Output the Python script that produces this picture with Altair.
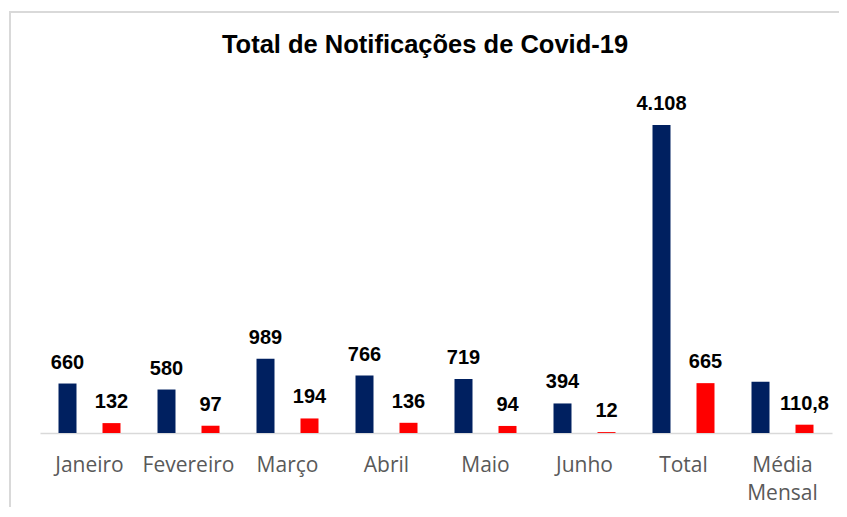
import altair as alt
import pandas as pd

categories = ["Janeiro", "Fevereiro", "Março", "Abril", "Maio", "Junho", "Total", "Média Mensal"]
series_names = ["Notificações", "Outros"]
values_a = [660, 580, 989, 766, 719, 394, 4108, 684.7]
values_b = [132, 97, 194, 136, 94, 12, 665, 110.8]
labels_a = ["660", "580", "989", "766", "719", "394", "4.108", ""]
labels_b = ["132", "97", "194", "136", "94", "12", "665", "110,8"]

rows = []
for i, c in enumerate(categories):
    rows.append({"cat": c, "serie": series_names[0], "v": values_a[i], "lab": labels_a[i]})
    rows.append({"cat": c, "serie": series_names[1], "v": values_b[i], "lab": labels_b[i]})
df = pd.DataFrame(rows)

x = alt.X("cat:N", sort=categories, title=None,
          scale=alt.Scale(paddingInner=0, paddingOuter=0),
          axis=alt.Axis(labelAngle=0, ticks=False, domainColor="#d9d9d9", domainWidth=1.5,
                        labelFont="Open Sans", labelFontSize=21, labelColor="#595959",
                        labelBaseline="alphabetic", labelPadding=38, labelLineHeight=28,
                        labelExpr="datum.value == 'Média Mensal' ? ['Média', 'Mensal'] : datum.label"))
xo = alt.XOffset("serie:N", sort=series_names,
                 scale=alt.Scale(paddingInner=0, paddingOuter=0.125))
y = alt.Y("v:Q", scale=alt.Scale(domain=[0, 4575]), axis=None)
color = alt.Color("serie:N", sort=series_names,
                  scale=alt.Scale(domain=series_names, range=["#002060", "#ff0000"]), legend=None)

base = alt.Chart(df)
bars = base.mark_bar(size=18).encode(x=x, xOffset=xo, y=y, color=color)
texts = base.mark_text(font="Liberation Sans", fontWeight="bold", fontSize=20, color="#000000",
                       baseline="alphabetic", dy=-15).encode(x=x, xOffset=xo, y=y, text="lab:N")

border = alt.Chart(pd.DataFrame({"k": [0]})).mark_rect(
    fillOpacity=0, stroke="#d9d9d9", strokeWidth=2).encode(
    x=alt.value(-30), x2=alt.value(900), y=alt.value(-78), y2=alt.value(500))

chart = alt.layer(border, bars, texts).properties(
    width=792, height=343,
    autosize=alt.AutoSizeParams(type="none"),
    padding={"left": 32, "top": 82, "right": 7, "bottom": 74},
    title=alt.TitleParams("Total de Notificações de Covid-19", font="Liberation Sans",
                          fontSize=25.5, fontWeight="bold", color="#000000",
                          anchor="middle", frame="group", baseline="alphabetic",
                          offset=0, dy=67, dx=-11),
).configure_view(stroke=None).configure_axis(grid=False)

chart.save("out.html", embed_options={"renderer": "svg", "actions": False})
